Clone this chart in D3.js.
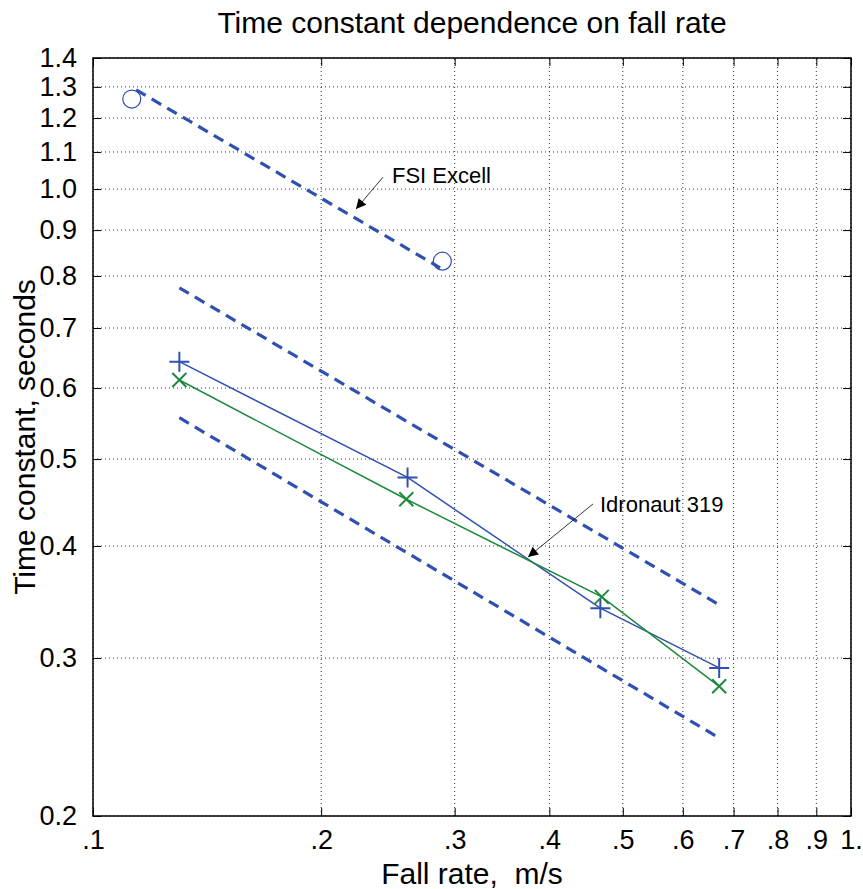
<!DOCTYPE html>
<html>
<head>
<meta charset="utf-8">
<script src="https://cdn.jsdelivr.net/npm/d3@7"></script>
<style>
  body { margin: 0; background: white; }
  text { font-family: "Liberation Sans", Arial, sans-serif; }
</style>
</head>
<body>
<div id="chart"></div>
<script>
// data
const x_ticks = [0.1, 0.2, 0.3, 0.4, 0.5, 0.6, 0.7, 0.8, 0.9, 1.0];
const x_tick_labels = [".1", ".2", ".3", ".4", ".5", ".6", ".7", ".8", ".9", "1."];
const y_ticks = [0.2, 0.3, 0.4, 0.5, 0.6, 0.7, 0.8, 0.9, 1.0, 1.1, 1.2, 1.3, 1.4];
const y_tick_labels = ["0.2", "0.3", "0.4", "0.5", "0.6", "0.7", "0.8", "0.9", "1.0", "1.1", "1.2", "1.3", "1.4"];

// FSI Excell measured points and fit line
const fsi_rate = [0.1125, 0.289];
const fsi_tau = [1.26, 0.831];
const fsi_fit_rate = [0.114, 0.287];
const fsi_fit_tau = [1.29, 0.817];

// Idronaut 319 bounds (dashed)
const idr_upper_rate = [0.130, 0.666];
const idr_upper_tau = [0.776, 0.345];
const idr_lower_rate = [0.130, 0.664];
const idr_lower_tau = [0.556, 0.2455];

// Idronaut 319 measured series
const idr_rate_1 = [0.130, 0.260, 0.467, 0.670];
const idr_tau_1 = [0.642, 0.477, 0.341, 0.2925];
const idr_rate_2 = [0.130, 0.259, 0.469, 0.670];
const idr_tau_2 = [0.6125, 0.451, 0.351, 0.279];

// annotations: [text, text x, text y, arrow start x, y, arrow tip x, y]
const fsi_note = ["FSI Excell", 0.248, 1.016, 0.2413, 1.031, 0.2223, 0.950];
const idr_note = ["Idronaut 319", 0.4665, 0.4365, 0.4567, 0.4456, 0.3749, 0.3889];

const width = 863;
const height = 889;
const margin = {top: 58, right: 12, bottom: 73, left: 93};

const blue = "#2f50b0";
const green = "#1c8a3c";

const svg = d3.select("#chart")
              .append("svg")
              .attr("width", width)
              .attr("height", height);

const x = d3.scaleLog()
            .domain([0.1, 1.0])
            .range([margin.left, width - margin.right]);
const y = d3.scaleLog()
            .domain([0.2, 1.4])
            .range([height - margin.bottom, margin.top]);

const x0 = x.range()[0], x1 = x.range()[1];
const y0 = y.range()[0], y1 = y.range()[1];

// grid
const grid = svg.append("g");
grid.selectAll(".gx")
    .data(x_ticks)
    .enter().append("line")
    .attr("x1", d => x(d)).attr("x2", d => x(d))
    .attr("y1", y0).attr("y2", y1)
    .attr("stroke", "#333").attr("stroke-width", 1)
    .attr("stroke-dasharray", "1,3");
grid.selectAll(".gy")
    .data(y_ticks)
    .enter().append("line")
    .attr("x1", x0).attr("x2", x1)
    .attr("y1", d => y(d)).attr("y2", d => y(d))
    .attr("stroke", "#333").attr("stroke-width", 1)
    .attr("stroke-dasharray", "1,3");

// axes with inward ticks on all four sides
const tick_len = 8;
const axis_bottom = d3.axisBottom(x).tickValues(x_ticks)
                      .tickFormat((d, i) => x_tick_labels[i])
                      .tickSizeInner(-tick_len).tickSizeOuter(0).tickPadding(14);
const axis_left = d3.axisLeft(y).tickValues(y_ticks)
                    .tickFormat((d, i) => y_tick_labels[i])
                    .tickSizeInner(-tick_len).tickSizeOuter(0).tickPadding(16);
const axis_top = d3.axisTop(x).tickValues(x_ticks).tickFormat("")
                   .tickSizeInner(-tick_len).tickSizeOuter(0);
const axis_right = d3.axisRight(y).tickValues(y_ticks).tickFormat("")
                     .tickSizeInner(-tick_len).tickSizeOuter(0);

const style_axis = g => {
    g.select(".domain").remove();
    g.selectAll(".tick line").attr("stroke", "black").attr("stroke-width", 1);
    g.selectAll("text").attr("fill", "black")
     .style("font-family", "'Liberation Sans', Arial, sans-serif")
     .style("font-size", "27px");
};

svg.append("g").attr("transform", `translate(0,${y0})`).call(axis_bottom).call(style_axis);
svg.append("g").attr("transform", `translate(${x0},0)`).call(axis_left).call(style_axis);
svg.append("g").attr("transform", `translate(0,${y1})`).call(axis_top).call(style_axis);
svg.append("g").attr("transform", `translate(${x1},0)`).call(axis_right).call(style_axis);

svg.append("rect")
   .attr("x", x0).attr("y", y1)
   .attr("width", x1 - x0).attr("height", y0 - y1)
   .attr("fill", "none").attr("stroke", "black").attr("stroke-width", 1.5);

// lines
const line = d3.line().x(d => x(d[0])).y(d => y(d[1]));
const zip = (a, b) => a.map((v, i) => [v, b[i]]);

const dashed = [
    zip(fsi_fit_rate, fsi_fit_tau),
    zip(idr_upper_rate, idr_upper_tau),
    zip(idr_lower_rate, idr_lower_tau)
];
svg.selectAll(".fit")
   .data(dashed)
   .enter().append("path")
   .attr("d", line)
   .attr("fill", "none")
   .attr("stroke", blue)
   .attr("stroke-width", 3.2)
   .attr("stroke-dasharray", "11,7");

const series_1 = zip(idr_rate_1, idr_tau_1);
const series_2 = zip(idr_rate_2, idr_tau_2);

svg.append("path").attr("d", line(series_1))
   .attr("fill", "none").attr("stroke", blue).attr("stroke-width", 1.5);
svg.append("path").attr("d", line(series_2))
   .attr("fill", "none").attr("stroke", green).attr("stroke-width", 1.5);

// markers
const plus = 10;
svg.selectAll(".plus")
   .data(series_1)
   .enter().append("path")
   .attr("d", d => `M${x(d[0]) - plus},${y(d[1])}H${x(d[0]) + plus}M${x(d[0])},${y(d[1]) - plus}V${y(d[1]) + plus}`)
   .attr("stroke", blue).attr("stroke-width", 2).attr("fill", "none");

const cross = 7;
svg.selectAll(".cross")
   .data(series_2)
   .enter().append("path")
   .attr("d", d => `M${x(d[0]) - cross},${y(d[1]) - cross}L${x(d[0]) + cross},${y(d[1]) + cross}M${x(d[0]) - cross},${y(d[1]) + cross}L${x(d[0]) + cross},${y(d[1]) - cross}`)
   .attr("stroke", green).attr("stroke-width", 2).attr("fill", "none");

svg.selectAll(".circ")
   .data(zip(fsi_rate, fsi_tau))
   .enter().append("circle")
   .attr("cx", d => x(d[0])).attr("cy", d => y(d[1]))
   .attr("r", 9)
   .attr("fill", "none").attr("stroke", blue).attr("stroke-width", 1.2);

// annotations
svg.append("defs").append("marker")
   .attr("id", "head")
   .attr("viewBox", "0 0 10 10")
   .attr("refX", 10).attr("refY", 5)
   .attr("markerWidth", 14).attr("markerHeight", 10)
   .attr("markerUnits", "userSpaceOnUse")
   .attr("orient", "auto")
   .append("path").attr("d", "M0,0L10,5L0,10Z").attr("fill", "black");

[fsi_note, idr_note].forEach(n => {
    svg.append("line")
       .attr("x1", x(n[3])).attr("y1", y(n[4]))
       .attr("x2", x(n[5])).attr("y2", y(n[6]))
       .attr("stroke", "black").attr("stroke-width", 0.8)
       .attr("marker-end", "url(#head)");
    svg.append("text")
       .attr("x", x(n[1])).attr("y", y(n[2]))
       .attr("font-size", "22px")
       .text(n[0]);
});

// titles
svg.append("text")
   .attr("x", (x0 + x1) / 2).attr("y", 33)
   .attr("text-anchor", "middle")
   .attr("font-size", "30px")
   .text("Time constant dependence on fall rate");

svg.append("text")
   .attr("x", (x0 + x1) / 2).attr("y", 884)
   .attr("text-anchor", "middle")
   .attr("font-size", "30px")
   .style("white-space", "pre")
   .text("Fall rate,  m/s");

svg.append("text")
   .attr("transform", `translate(35,${(y0 + y1) / 2}) rotate(-90)`)
   .attr("text-anchor", "middle")
   .attr("font-size", "30px")
   .text("Time constant, seconds");
</script>
</body>
</html>
